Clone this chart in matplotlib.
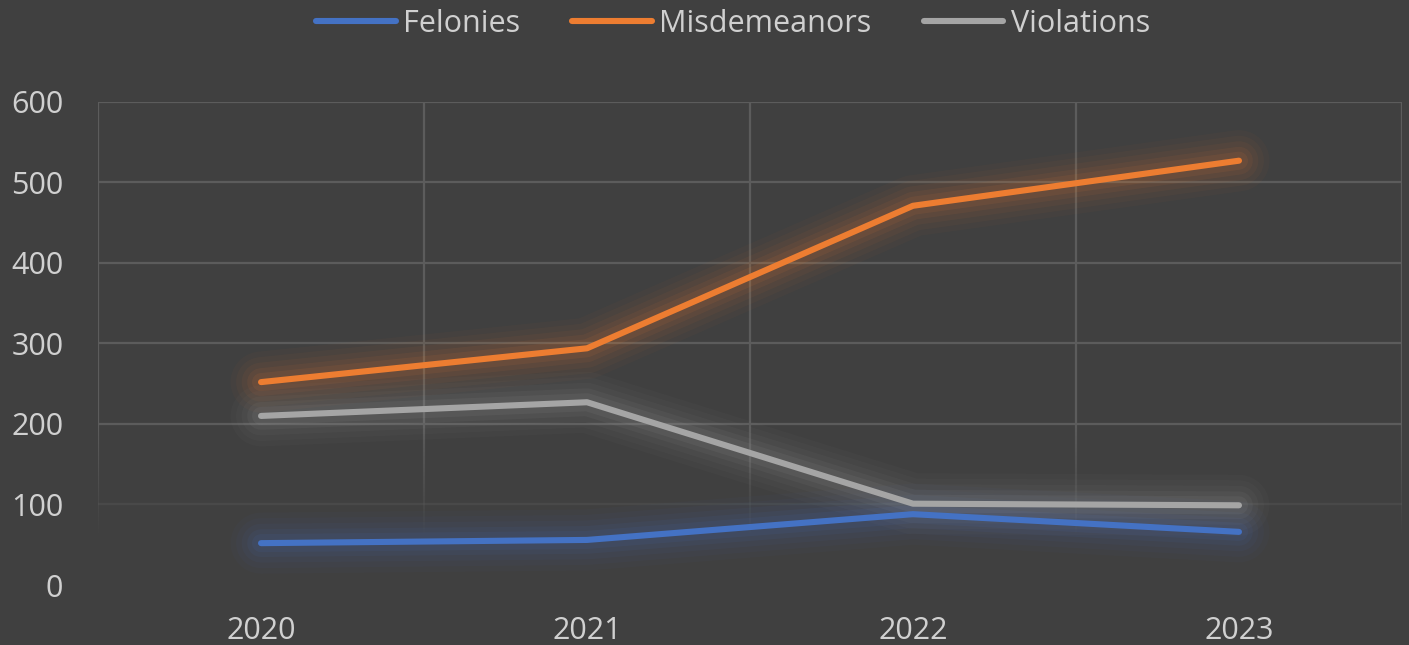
import matplotlib.pyplot as plt
import numpy as np
from matplotlib.collections import LineCollection

years = ["2020", "2021", "2022", "2023"]
felonies = [52, 56, 88, 66]
misdemeanors = [252, 294, 471, 527]
violations = [210, 227, 101, 99]

series = [
    ("Felonies", felonies, "#4472C4"),
    ("Misdemeanors", misdemeanors, "#ED7D31"),
    ("Violations", violations, "#A5A5A5"),
]

bg = "#404040"
grid_color = "#5c5c5c"
text_color = "#D0D0D0"

plt.rcParams["font.family"] = ["Open Sans", "DejaVu Sans"]

fig = plt.figure(figsize=(14.09, 6.45), dpi=100, facecolor=bg)
ax = fig.add_axes([0.0696, 0.093, 0.9254, 0.749], facecolor=bg)

n = len(years)
x = np.arange(n)
ax.set_xlim(-0.5, n - 0.5)
ax.set_ylim(0, 600)

# grid that fades out toward the bottom
def fade_alpha(y):
    return np.clip((y - 60) / 140, 0.0, 1.0)

for yv in range(100, 700, 100):
    ax.axhline(yv, color=grid_color, lw=1.6, alpha=float(fade_alpha(yv)) * 0.9 + 0.1, zorder=1)
yy = np.linspace(0, 600, 121)
for xv in np.arange(-0.5, n, 1.0):
    pts = np.column_stack([np.full_like(yy, xv), yy])
    segs = np.stack([pts[:-1], pts[1:]], axis=1)
    lc = LineCollection(segs, colors=grid_color, linewidths=1.6, zorder=1)
    lc.set_alpha(fade_alpha((yy[:-1] + yy[1:]) / 2))
    ax.add_collection(lc)

# soft glow under each line
for name, vals, color in series:
    for w, a in [(44, 0.03), (36, 0.04), (28, 0.05), (20, 0.07), (13, 0.09)]:
        ax.plot(x, vals, color=color, lw=w, alpha=a, solid_capstyle="round",
                solid_joinstyle="round", zorder=2)
for name, vals, color in series:
    ax.plot(x, vals, color=color, lw=4.4, solid_capstyle="round",
            solid_joinstyle="round", zorder=3, label=name)

for s in ax.spines.values():
    s.set_visible(False)
ax.set_xticks(x)
ax.set_xticklabels(years)
ax.set_yticks(range(0, 700, 100))
ax.tick_params(length=0, colors=text_color, labelsize=22)
ax.tick_params(axis="x", pad=22)
ax.tick_params(axis="y", pad=25)
for lab in ax.get_yticklabels():
    lab.set_horizontalalignment("right")

leg = ax.legend(loc="center", bbox_to_anchor=(0.487, 1.162), ncol=3, frameon=False,
                fontsize=22, labelcolor=text_color, handlelength=2.6,
                handletextpad=0.25, columnspacing=1.7)
for h in leg.get_lines():
    h.set_linewidth(4.4)

fig.savefig("out.png", dpi=100, facecolor=bg)
